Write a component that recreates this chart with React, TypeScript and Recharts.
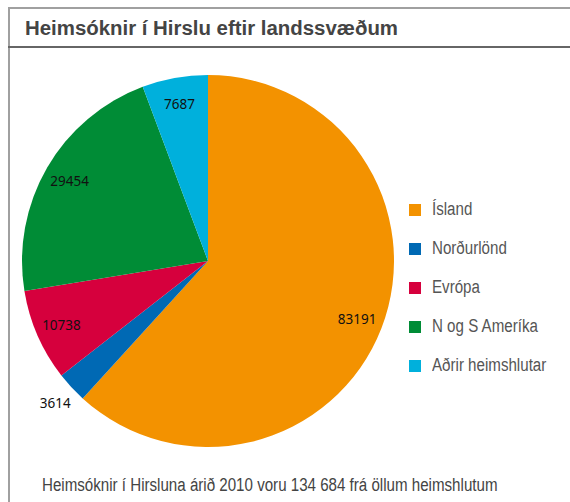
import React from "react";
import { PieChart, Pie, Cell, Legend } from "recharts";

const regions = ["Ísland", "Norðurlönd", "Evrópa", "N og S Ameríka", "Aðrir heimshlutar"];
const visits = [83191, 3614, 10738, 29454, 7687];
const colors = ["#F39200", "#0069B4", "#D6003D", "#008C36", "#00B0DC"];

const titleText = "Heimsóknir í Hirslu eftir landssvæðum";
const footerText = "Heimsóknir í Hirsluna árið 2010 voru 134 684 frá öllum heimshlutum";

const data = regions.map((name, i) => ({ name, value: visits[i] }));

const RAD = Math.PI / 180;

const SliceLabel = (props: any) => {
  const { cx, cy, midAngle, outerRadius, percent, value } = props;
  // small slices get their label outside, like the original
  const r = percent < 0.05 ? outerRadius * 1.12 : outerRadius * 0.86;
  const x = cx + r * Math.cos(-midAngle * RAD);
  const y = cy + r * Math.sin(-midAngle * RAD);
  return (
    <text
      x={x}
      y={y}
      textAnchor="middle"
      dominantBaseline="central"
      fill="#111"
      fontSize={13.5}
      fontFamily="'Noto Sans', sans-serif"
    >
      {value}
    </text>
  );
};

// legend built from the arrays so the order stays as in the source
const LegendList = () => (
  <div>
    {regions.map((name, i) => (
      <div key={name} style={{ display: "flex", alignItems: "center", height: 39 }}>
        <span
          style={{
            width: 12,
            height: 12,
            background: colors[i],
            marginRight: 11,
            display: "inline-block",
            flex: "none",
          }}
        />
        <span
          style={{
            fontFamily: "'Liberation Sans', sans-serif",
            fontSize: 18,
            color: "#555",
            whiteSpace: "nowrap",
            display: "inline-block",
            transform: "scaleX(0.84)",
            transformOrigin: "left center",
          }}
        >
          {name}
        </span>
      </div>
    ))}
  </div>
);

const App: React.FC = () => {
  return (
    <div
      style={{
        position: "absolute",
        left: 0,
        top: 0,
        width: 570,
        height: 502,
        background: "#fff",
        overflow: "hidden",
      }}
    >
      {/* frame */}
      <div
        style={{
          position: "absolute",
          left: 8,
          top: 7,
          width: 570,
          height: 500,
          borderLeft: "2px solid #a0a0a0",
          borderTop: "2px solid #a0a0a0",
        }}
      />
      <div
        style={{
          position: "absolute",
          left: 8,
          top: 46,
          width: 570,
          borderTop: "2px solid #666",
        }}
      />
      <svg
        width={570}
        height={60}
        style={{ position: "absolute", left: 0, top: 0 }}
      >
        <text
          x={25}
          y={35}
          textLength={373}
          lengthAdjust="spacingAndGlyphs"
          fontFamily="'Liberation Sans', sans-serif"
          fontWeight="bold"
          fontSize={20}
          fill="#444"
        >
          {titleText}
        </text>
      </svg>
      <div
        style={{
          position: "absolute",
          left: 42,
          top: 475,
          fontFamily: "'Liberation Sans', sans-serif",
          fontSize: 18,
          lineHeight: "20px",
          color: "#444",
          whiteSpace: "nowrap",
          transform: "scaleX(0.84)",
          transformOrigin: "left top",
        }}
      >
        {footerText}
      </div>

      <div style={{ position: "absolute", left: 0, top: 0 }}>
        <PieChart width={570} height={470} margin={{ top: 0, right: 0, bottom: 0, left: 0 }}>
          <Pie
            data={data}
            dataKey="value"
            nameKey="name"
            cx={208}
            cy={261}
            outerRadius={186}
            startAngle={90}
            endAngle={-270}
            stroke="none"
            label={<SliceLabel />}
            labelLine={false}
            isAnimationActive={false}
          >
            {data.map((d, i) => (
              <Cell key={d.name} fill={colors[i]} />
            ))}
          </Pie>
          <Legend
            layout="vertical"
            content={<LegendList />}
            wrapperStyle={{ left: 409, top: 190, width: 160 }}
          />
        </PieChart>
      </div>
    </div>
  );
};

export default App;
